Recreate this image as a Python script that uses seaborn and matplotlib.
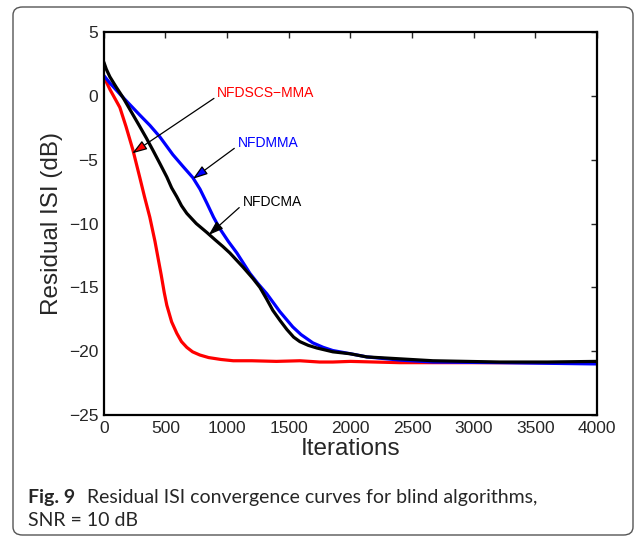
import numpy as np
import pandas as pd
import matplotlib
matplotlib.use("Agg")
import matplotlib.pyplot as plt
from matplotlib.patches import FancyBboxPatch
import seaborn as sns

# ---- data ----
iters_red = [0, 50, 130, 180, 235, 292, 330, 373, 415, 438, 465, 490, 511, 550, 592, 630, 673, 720,
             779, 850, 950, 1050, 1200, 1400, 1590, 1750, 1858, 2000, 2200, 2400, 2670, 3000, 3500, 4000]
isi_red = [1.5, 0.5, -0.9, -2.4, -4.2, -6.4, -7.9, -9.5, -11.4, -12.6, -14.0, -15.4, -16.4, -17.7,
           -18.6, -19.25, -19.7, -20.05, -20.3, -20.5, -20.65, -20.75, -20.75, -20.8, -20.75, -20.85,
           -20.85, -20.8, -20.85, -20.9, -20.9, -20.9, -20.9, -20.9]

iters_blue = [0, 50, 154, 292, 373, 454, 560, 640, 722, 780, 836, 890, 941, 1010, 1079, 1185, 1250,
              1322, 1428, 1533, 1600, 1696, 1780, 1858, 2000, 2134, 2402, 2670, 3213, 3600, 4000]
isi_blue = [1.6, 1.0, -0.1, -1.5, -2.3, -3.2, -4.6, -5.5, -6.4, -7.3, -8.4, -9.5, -10.4, -11.4,
            -12.3, -13.9, -14.7, -15.5, -16.9, -18.1, -18.7, -19.35, -19.7, -19.95, -20.2, -20.45,
            -20.7, -20.85, -20.9, -20.95, -21.0]

iters_black = [0, 20, 49, 100, 154, 220, 292, 345, 398, 455, 511, 550, 592, 630, 673, 750, 836,
               900, 966, 1022, 1075, 1128, 1209, 1266, 1320, 1371, 1430, 1485, 1540, 1590, 1660,
               1728, 1858, 1996, 2134, 2402, 2670, 3213, 3600, 4000]
isi_black = [2.65, 2.1, 1.5, 0.7, -0.1, -1.2, -2.4, -3.3, -4.25, -5.3, -6.35, -7.2, -7.9, -8.6,
             -9.2, -10.0, -10.7, -11.25, -11.8, -12.3, -12.85, -13.4, -14.3, -15.0, -15.9, -16.8,
             -17.6, -18.3, -18.9, -19.25, -19.55, -19.75, -20.05, -20.2, -20.45, -20.6, -20.75,
             -20.85, -20.85, -20.8]

labels = ["NFDSCS\u2212MMA", "NFDMMA", "NFDCMA"]
colors = ["#ff0000", "#0000ff", "#000000"]

x_ticks = [0, 500, 1000, 1500, 2000, 2500, 3000, 3500, 4000]
y_ticks = [-25, -20, -15, -10, -5, 0, 5]

# ---- plot ----
sns.set_style("white")
plt.rcParams['font.family'] = ['Liberation Sans', 'DejaVu Sans']
plt.rcParams['axes.unicode_minus'] = True

fig = plt.figure(figsize=(6.37, 5.40), dpi=100)
ax = fig.add_axes([0.163, 0.2315, 0.774, 0.709])

dfs = [
    pd.DataFrame({"x": iters_red, "y": isi_red}),
    pd.DataFrame({"x": iters_blue, "y": isi_blue}),
    pd.DataFrame({"x": iters_black, "y": isi_black}),
]
for df, c in zip(dfs, colors):
    sns.lineplot(data=df, x="x", y="y", color=c, lw=2.3, ax=ax)

ax.set_xlim(0, 4000)
ax.set_ylim(-25, 5)
ax.set_xticks(x_ticks)
ax.set_yticks(y_ticks)
ax.set_xticklabels([str(v) for v in x_ticks], fontsize=12.5)
ax.set_yticklabels([str(v).replace('-', '\u2212') for v in y_ticks], fontsize=12.5)
ax.tick_params(direction='in', top=True, right=True, length=4, width=1, pad=4)
for s in ax.spines.values():
    s.set_visible(True)
    s.set_color('black')
    s.set_linewidth(1.6)
ax.set_xlabel("Iterations", fontsize=17.5, labelpad=2)
ax.set_ylabel("Residual ISI (dB)", fontsize=17.5, labelpad=4)

# annotations (text position, arrow tip)
ann = [
    (labels[0], colors[0], (920, 0.2), (230, -4.5)),
    (labels[1], colors[1], (1085, -3.7), (722, -6.5)),
    (labels[2], colors[2], (1125, -8.3), (850, -10.9)),
]
for txt, c, tpos, tip in ann:
    ax.annotate(txt, xy=tip, xytext=tpos, color=c, fontsize=10,
                ha='left', va='center',
                arrowprops=dict(arrowstyle='-|>,head_length=0.9,head_width=0.3',
                                fc=c, ec='black', lw=0.9, shrinkA=0, shrinkB=0,
                                relpos=(0, 0.3)))

# caption and frame
box = FancyBboxPatch((13/637, 5/540), (633-13)/637, (533-5)/540,
                     boxstyle="round,pad=0,rounding_size=0.015",
                     transform=fig.transFigure, fill=False, ec='#555555', lw=1.0)
fig.patches.append(box)
cap_font = ['Lato', 'DejaVu Sans']
fig.text(28/637, 1 - 497/540, "Fig. 9", fontsize=14, fontweight='bold',
         family=cap_font, va='center', ha='left')
fig.text(87/637, 1 - 497/540, "Residual ISI convergence curves for blind algorithms,",
         fontsize=14, family=cap_font, va='center', ha='left')
fig.text(28/637, 1 - 521/540, "SNR = 10 dB", fontsize=14,
         family=cap_font, va='center', ha='left')

fig.savefig("out.png", dpi=100)
